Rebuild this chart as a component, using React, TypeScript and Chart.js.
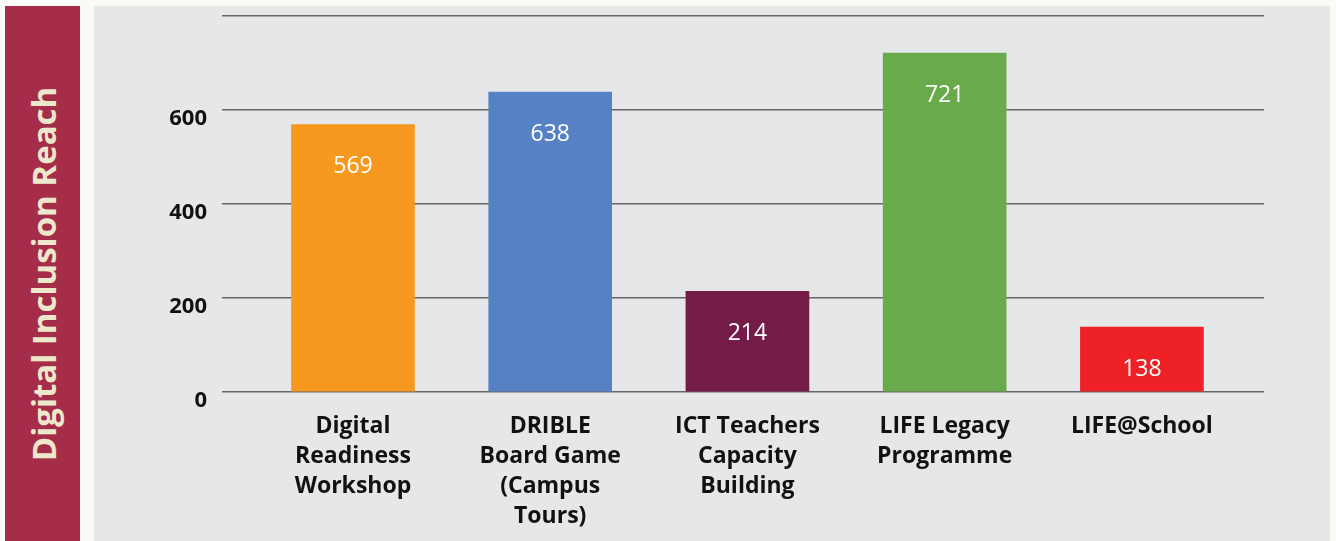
import React, { useEffect, useRef } from "react";
import { Chart, registerables } from "chart.js";

Chart.register(...registerables);

const categories: string[][] = [
  ["Digital", "Readiness", "Workshop"],
  ["DRIBLE", "Board Game", "(Campus", "Tours)"],
  ["ICT Teachers", "Capacity", "Building"],
  ["LIFE Legacy", "Programme"],
  ["LIFE@School"],
];
const values: number[] = [569, 638, 214, 721, 138];
const barColors: string[] = ["#F7991F", "#5781C5", "#731C47", "#69AB4B", "#EE2226"];
const yMax = 800;
const yStep = 200;
const yTickLabels: Record<number, string> = { 0: "0", 200: "200", 400: "400", 600: "600", 800: "" };
const axisTitle = "Digital Inclusion Reach";

const FONT = "'Open Sans', Lato, sans-serif";

const valueLabelPlugin = {
  id: "valueLabels",
  afterDatasetsDraw(chart: any) {
    const ctx = chart.ctx;
    const meta = chart.getDatasetMeta(0);
    ctx.save();
    ctx.fillStyle = "#FFFFFF";
    ctx.font = `500 23px ${FONT}`;
    ctx.textAlign = "center";
    ctx.textBaseline = "middle";
    meta.data.forEach((bar: any, i: number) => {
      ctx.fillText(String(values[i]), bar.x, bar.y + 42);
    });
    ctx.restore();
  },
};

export default function App() {
  const canvasRef = useRef<HTMLCanvasElement | null>(null);

  useEffect(() => {
    if (!canvasRef.current) return;
    const chart = new Chart(canvasRef.current, {
      type: "bar",
      data: {
        datasets: [
          {
            data: values.map((v, i) => ({ x: i, y: v })),
            backgroundColor: barColors,
            borderWidth: 0,
            barThickness: 123,
          },
        ],
      },
      options: {
        animation: false,
        responsive: false,
        maintainAspectRatio: false,
        events: [],
        layout: { padding: { left: 0, top: 16, right: 72, bottom: 0 } },
        plugins: { legend: { display: false }, tooltip: { enabled: false } },
        scales: {
          x: {
            type: "linear",
            offset: false,
            min: -0.664,
            max: 4.619,
            grid: { display: false, offset: false },
            border: { display: false },
            afterFit: (scale: any) => {
              scale.height = 149;
              scale.paddingLeft = 0;
              scale.paddingRight = 0;
            },
            ticks: {
              stepSize: 1,
              includeBounds: false,
              autoSkip: false,
              maxRotation: 0,
              minRotation: 0,
              padding: 12,
              color: "#111111",
              font: { family: FONT, size: 23, weight: "bold", lineHeight: 1.3 },
              callback: (v: any) => {
                const i = Math.round(Number(v));
                if (Math.abs(Number(v) - i) > 1e-6 || i < 0 || i >= categories.length) return "";
                return categories[i];
              },
            },
          },
          y: {
            min: 0,
            max: yMax,
            grid: { color: "#666666", lineWidth: 1.5, drawTicks: false },
            border: { display: false },
            afterFit: (scale: any) => {
              scale.width = 222;
              scale.paddingTop = 0;
              scale.paddingBottom = 0;
            },
            ticks: {
              stepSize: yStep,
              padding: 15,
              labelOffset: 9,
              color: "#111111",
              font: { family: FONT, size: 22, weight: "bold" },
              callback: (v: any) => yTickLabels[Number(v)] ?? "",
            },
          },
        },
      },
      plugins: [valueLabelPlugin],
    } as any);
    return () => chart.destroy();
  }, []);

  return (
    <div
      style={{
        position: "absolute",
        left: 0,
        top: 0,
        width: 1336,
        height: 541,
        background: "#FAFAF6",
        overflow: "hidden",
      }}
    >
      <div
        style={{
          position: "absolute",
          left: 5,
          top: 6,
          width: 75,
          height: 535,
          background: "#A52D4A",
        }}
      >
        <div
          style={{
            position: "absolute",
            left: 38,
            top: 268,
            transform: "translate(-50%, -50%) rotate(-90deg)",
            whiteSpace: "nowrap",
            color: "#EDE8CC",
            fontFamily: FONT,
            fontWeight: 700,
            fontSize: 33,
          }}
        >
          {axisTitle}
        </div>
      </div>
      <div
        style={{
          position: "absolute",
          left: 94,
          top: 6,
          width: 1236,
          height: 535,
          background: "#E6E7E9",
        }}
      />
      <canvas
        ref={canvasRef}
        width={1336}
        height={541}
        style={{ position: "absolute", left: 0, top: 0, width: 1336, height: 541 }}
      />
    </div>
  );
}
